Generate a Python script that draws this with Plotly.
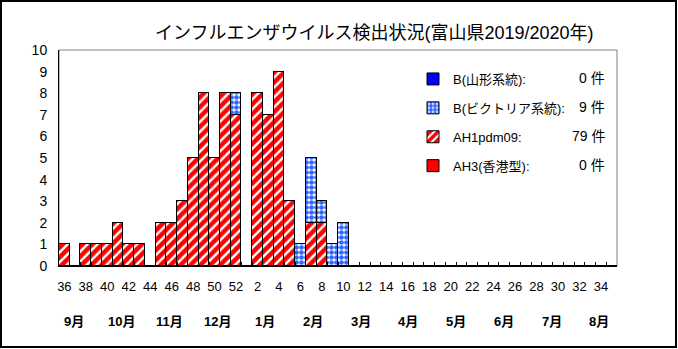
import plotly.graph_objects as go

weeks = [str(w) for w in list(range(36, 53)) + list(range(1, 36))]
ah1pdm09 = [1, 0, 1, 1, 1, 2, 1, 1, 0, 2, 2, 3, 5, 8, 5, 8, 7,
            0, 8, 7, 9, 3, 0, 2, 2, 0, 0] + [0] * 25
b_victoria = [0] * 16 + [1] + [0, 0, 0, 0, 0, 1, 3, 1, 1, 2] + [0] * 25
b_yamagata = [0] * 52
ah3 = [0] * 52
series_names = ["B(山形系統):", "B(ビクトリア系統):", "AH1pdm09:", "AH3(香港型):"]
counts = ["0 件", "9 件", "79 件", "0 件"]
months = ["9月", "10月", "11月", "12月", "1月", "2月", "3月", "4月", "5月", "6月", "7月", "8月"]
title = "インフルエンザウイルス検出状況(富山県2019/2020年)"

FONT = "Liberation Sans, Noto Sans CJK JP"
W, H = 678, 349
L, R, T, B = 59, 61, 50, 83
PW, PH = W - L - R, H - T - B

line = dict(color="black", width=1)
fig = go.Figure()
fig.add_bar(x=weeks, y=ah3, name=series_names[3], legendrank=4,
            marker=dict(color="#FF0000", line=line))
fig.add_bar(x=weeks, y=ah1pdm09, name=series_names[2], legendrank=3,
            marker=dict(color="#FF0000", line=line,
                        pattern=dict(shape="/", fgcolor="#FF0000", bgcolor="white",
                                     fgopacity=1, size=7, solidity=0.65)))
fig.add_bar(x=weeks, y=b_victoria, name=series_names[1], legendrank=2,
            marker=dict(color="#3366FF", line=line,
                        pattern=dict(shape=".", fgcolor="#2F66FF", bgcolor="white",
                                     fgopacity=1, size=5, solidity=0.7)))
fig.add_bar(x=weeks, y=b_yamagata, name=series_names[0], legendrank=1,
            marker=dict(color="#0000FF", line=line))

ticktext = [w if int(w) % 2 == 0 else "" for w in weeks]
fig.update_layout(
    width=W, height=H, margin=dict(l=L, r=R, t=T, b=B),
    paper_bgcolor="white", plot_bgcolor="white",
    barmode="stack", bargap=0,
    font=dict(family=FONT, size=13, color="black"),
    showlegend=True,
    legend=dict(x=(413 - L) / PW, y=(266 - 64) / PH, xanchor="left", yanchor="top",
                bgcolor="rgba(0,0,0,0)", font=dict(size=13, family=FONT),
                tracegroupgap=9, itemwidth=30),
    xaxis=dict(type="category", categoryorder="array", categoryarray=weeks,
               tickmode="array", tickvals=weeks, ticktext=ticktext, tickangle=0,
               tickson="boundaries", ticks="inside", ticklen=4, tickcolor="black",
               showline=True, linecolor="black", linewidth=1,
               showgrid=False, zeroline=False, ticklabelstandoff=8,
               tickfont=dict(size=13), range=[-0.5, 51.5]),
    yaxis=dict(range=[0, 10], dtick=1, showgrid=False, zeroline=False,
               showline=True, linecolor="black", linewidth=1, ticks="",
               ticklabelstandoff=8, tickfont=dict(size=14)),
)
for i, tr in enumerate(fig.data):
    tr.legendgroup = "g%d" % i

fig.add_shape(type="rect", xref="paper", yref="paper", x0=0, x1=1, y0=0, y1=1,
              line=dict(color="#808080", width=1), layer="below")
fig.add_shape(type="rect", xref="paper", yref="paper",
              x0=-(L - 1) / PW, x1=1 + (R - 2) / PW,
              y0=-(B - 2) / PH, y1=1 + (T - 1) / PH,
              line=dict(color="black", width=2))

fig.add_annotation(text=title, xref="paper", yref="paper",
                   x=(374 - L) / PW, y=1 + (T - 33) / PH, showarrow=False,
                   xanchor="center", yanchor="middle", font=dict(size=18))

for i, c in enumerate(counts):
    py = 78 + 29 * i
    fig.add_annotation(text=c, xref="paper", yref="paper", x=(607 - L) / PW,
                       y=(266 - py) / PH, showarrow=False, xanchor="right",
                       yanchor="middle", font=dict(size=14))

for i, m in enumerate(months):
    fig.add_annotation(text="<b>%s</b>" % m, xref="x", yref="paper",
                       x=0.9 + 4.45 * i, y=(266 - 321) / PH, showarrow=False,
                       xanchor="center", yanchor="middle", font=dict(size=13))

fig.write_html("out.html")
